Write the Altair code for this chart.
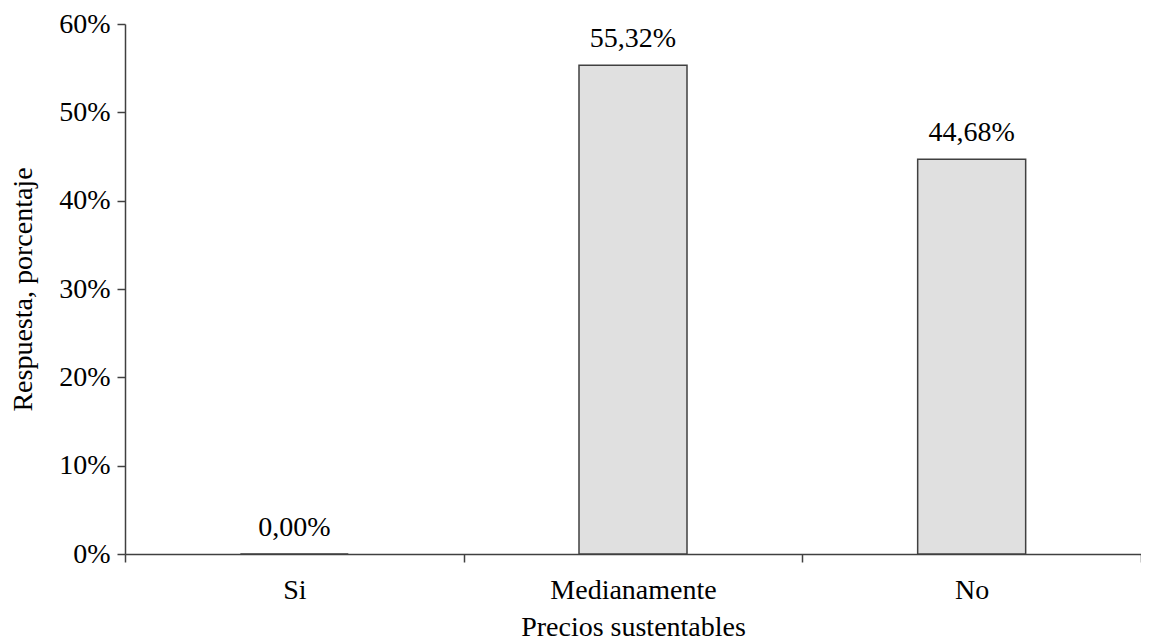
import altair as alt
import pandas as pd

categories = ["Si", "Medianamente", "No"]
values = [0.0, 0.5532, 0.4468]
labels = ["0,00%", "55,32%", "44,68%"]

df = pd.DataFrame({"cat": categories, "val": values, "lab": labels})

FONT = "Liberation Serif"
FS = 28

x = alt.X("cat:N", sort=categories, title="Precios sustentables",
          scale=alt.Scale(paddingInner=0, paddingOuter=0),
          axis=alt.Axis(labelAngle=0, tickBand="extent", labelPadding=14, titlePadding=9))
y = alt.Y("val:Q", title="Respuesta, porcentaje",
          scale=alt.Scale(domain=[0, 0.6], nice=False),
          axis=alt.Axis(values=[0, 0.1, 0.2, 0.3, 0.4, 0.5, 0.6], format=".0%",
                        labelPadding=7, titlePadding=21))

bars = alt.Chart(df).mark_bar(size=108, fill="#e0e0e0", stroke="#404040", strokeWidth=1.5).encode(x=x, y=y)
text = alt.Chart(df).mark_text(font=FONT, fontSize=FS, color="black", baseline="alphabetic", dy=-18).encode(
    x=alt.X("cat:N", sort=categories), y="val:Q", text="lab:N")

chart = alt.layer(bars, text).properties(
    width=1016, height=530,
    autosize=alt.AutoSizeParams(type="none"),
    padding={"left": 117, "top": 16, "right": 0, "bottom": 92},
).configure_view(stroke=None).configure_axis(
    grid=False,
    domainColor="#404040", domainWidth=1.5,
    tickColor="#404040", tickWidth=1.5, tickSize=8,
    labelFont=FONT, labelFontSize=FS, labelColor="black",
    titleFont=FONT, titleFontSize=FS, titleColor="black", titleFontWeight="normal",
)

chart.save("out.html", embed_options={"renderer": "svg", "actions": False})
